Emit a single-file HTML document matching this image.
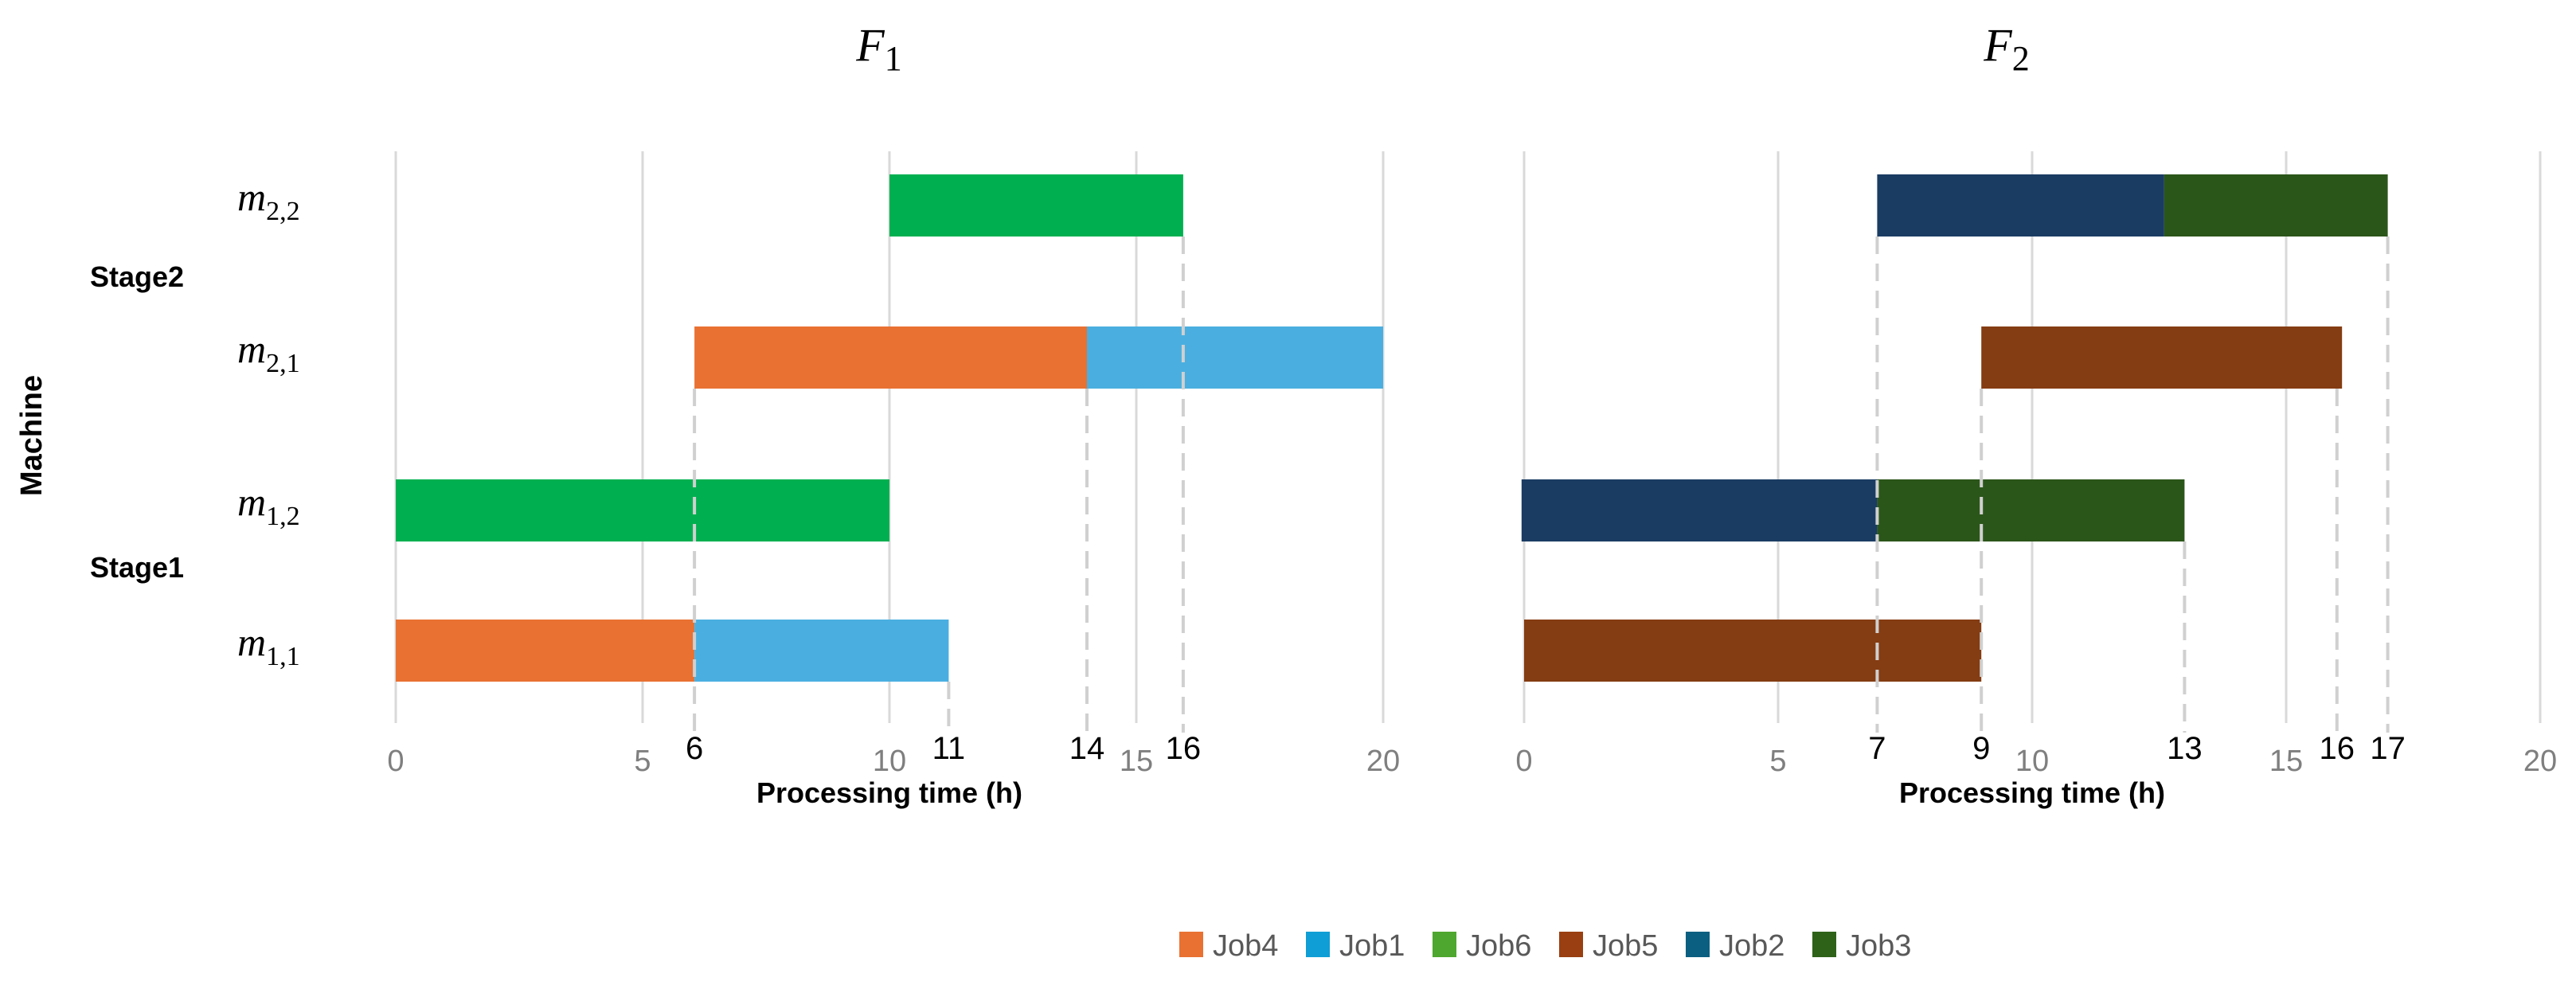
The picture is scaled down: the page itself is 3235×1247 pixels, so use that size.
<!DOCTYPE html>
<html><head><meta charset="utf-8"><style>
html,body{margin:0;padding:0;background:#fff;}
svg{display:block;}
text{font-family:"Liberation Sans",sans-serif;}
text.serif{font-family:"Liberation Serif",serif;}
</style></head><body>
<svg id="chart" width="3235" height="1247" viewBox="0 0 3235 1247" xmlns="http://www.w3.org/2000/svg">
<g id="grid"></g><g id="bars"></g><g id="dashes"></g><g id="labels"></g>
<text x="0" y="0" transform="translate(52,547) rotate(-90)" text-anchor="middle" font-size="38" font-weight="bold">Machine</text>
<text x="113" y="360" font-size="36" font-weight="bold">Stage2</text>
<text x="113" y="725" font-size="36" font-weight="bold">Stage1</text>
<g id="legend"></g>
</svg>
<script>
const jobs = ["Job4","Job1","Job6","Job5","Job2","Job3"];
const jobColors = {Job4:"#E97132",Job1:"#4AAFE0",Job6:"#00B050",Job5:"#843C12",Job2:"#1A3C63",Job3:"#2B561A"};
const legendColors = {Job4:"#E97132",Job1:"#0F9ED5",Job6:"#4EA72E",Job5:"#993F11",Job2:"#0B5F80",Job3:"#2E6219"};
const machines = ["m11","m12","m21","m22"];
const machineSub = {m11:"1,1",m12:"1,2",m21:"2,1",m22:"2,2"};
const f1Tasks = [["m22","Job6",10,15.95],["m21","Job4",6.05,14],["m21","Job1",14,20],["m12","Job6",0,10],["m11","Job4",0,6.05],["m11","Job1",6.05,11.2]];
const f2Tasks = [["m22","Job2",6.95,12.6],["m22","Job3",12.6,17],["m21","Job5",9,16.1],["m12","Job2",-0.05,6.95],["m12","Job3",6.95,13],["m11","Job5",0,9]];
const f1Marks = [[6.05,"m21","6"],[11.2,"m11","11"],[14,"m21","14"],[15.95,"m22","16"]];
const f2Marks = [[6.95,"m22","7"],[9,"m21","9"],[13,"m12","13"],[16,"m21","16"],[17,"m22","17"]];
const ticks = [0,5,10,15,20];

const NS="http://www.w3.org/2000/svg";
function mk(tag,attrs,parent,txt){const e=document.createElementNS(NS,tag);for(const k in attrs)e.setAttribute(k,attrs[k]);if(txt!==undefined)e.textContent=txt;parent.appendChild(e);return e;}
const rowTop={m22:219,m21:410,m12:602,m11:778};
const barH=78;
const gridTop=190, gridBot=908;
const panels=[{name:"f1",title:"1",x0:497,x1:1737,tasks:f1Tasks,marks:f1Marks,tcx:1104},
              {name:"f2",title:"2",x0:1914,x1:3190,tasks:f2Tasks,marks:f2Marks,tcx:2520}];
const G=id=>document.getElementById(id);
panels.forEach(p=>{
  const sx=v=>p.x0+(p.x1-p.x0)*v/20;
  ticks.forEach(t=>{
    const l=mk("line",{x1:sx(t),x2:sx(t),y1:gridTop,y2:gridBot,stroke:"#d9d9d9","stroke-width":3},G("grid"));
    
    
    const tx=mk("text",{x:sx(t),y:968,"text-anchor":"middle","font-size":38,fill:"#7f7f7f"},G("labels"),String(t));
    
    
  });
  p.tasks.forEach(tk=>{
    const r=mk("rect",{x:sx(tk[2]),y:rowTop[tk[0]],width:sx(tk[3])-sx(tk[2]),height:barH,fill:jobColors[tk[1]]},G("bars"));
    
    
  });
  p.marks.forEach(m=>{
    const d=mk("line",{x1:sx(m[0]),x2:sx(m[0]),y1:rowTop[m[1]]+barH,y2:920,stroke:"#d0d0d0","stroke-width":4,"stroke-dasharray":"22 12"},G("dashes"));
    
    
    const t=mk("text",{x:sx(m[0]),y:953,"text-anchor":"middle","font-size":40,fill:"#000"},G("labels"),m[2]);
    
    
  });
  const tt=mk("text",{class:"serif",x:p.tcx,y:76,"text-anchor":"middle","font-size":58,"font-style":"italic"},G("labels"));
  
  
  mk("tspan",{},tt,"F");
  mk("tspan",{dy:12,"font-size":44,"font-style":"normal"},tt,p.title);
  const at=mk("text",{x:(p.x0+p.x1)/2,y:1008,"text-anchor":"middle","font-size":36,"font-weight":"bold"},G("labels"),"Processing time (h)");
  
  
});
machines.forEach(m=>{
  const t=mk("text",{class:"serif",x:298,y:rowTop[m]+barH/2+6,"font-size":50,"font-style":"italic"},G("labels"));
  
  
  mk("tspan",{},t,"m");
  mk("tspan",{dy:12,"font-size":34,"font-style":"normal"},t,machineSub[m]);
});
jobs.forEach((j,i)=>{
  const x=1481+i*159;
  const g=mk("g",{},G("legend"));
  
  
  mk("rect",{x:x,y:1170,width:30,height:32,fill:legendColors[j]},g);
  mk("text",{x:x+42,y:1200,"font-size":38,fill:"#595959"},g,j);
});
</script>
</body></html>
